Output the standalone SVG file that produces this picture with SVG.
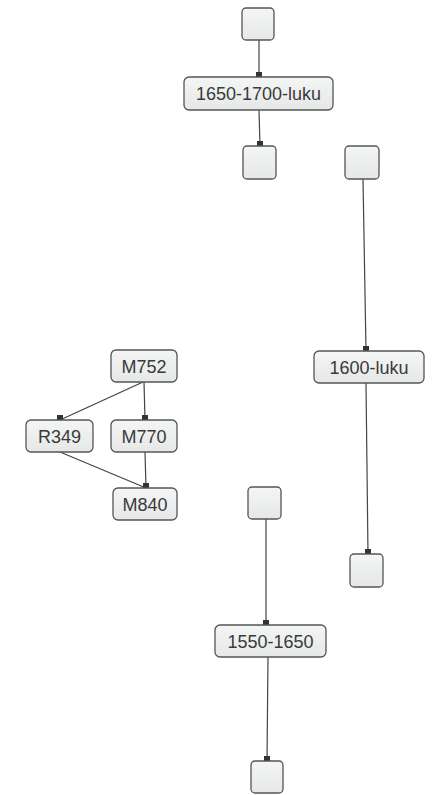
<svg xmlns="http://www.w3.org/2000/svg" width="439" height="795" viewBox="0 0 439 795">
<defs>
<linearGradient id="g" x1="0" y1="0" x2="0" y2="1"><stop offset="0" stop-color="#f4f5f5"/><stop offset="1" stop-color="#e6e8e8"/></linearGradient>
<marker id="m" markerWidth="6" markerHeight="5" refX="3" refY="5" orient="0" markerUnits="userSpaceOnUse" viewBox="0 0 6 5"><rect x="0" y="0" width="6" height="5" fill="#333"/></marker>
</defs>
<style>
.n{fill:url(#g);stroke:#555;stroke-width:1.3}
.t{font-family:"Liberation Sans",Arial,sans-serif;font-size:18px;fill:#3a3a3a;text-anchor:middle}
.c{stroke:#444;stroke-width:1.2;fill:none;marker-end:url(#m)}
</style>
<rect width="439" height="795" fill="#ffffff"/>
<g id="connectors">
<line class="c" x1="259" y1="40" x2="259" y2="77"/>
<line class="c" x1="259" y1="110" x2="260" y2="146"/>
<line class="c" x1="363" y1="179" x2="366" y2="351"/>
<line class="c" x1="366" y1="383" x2="368" y2="554"/>
<line class="c" x1="143" y1="382" x2="60" y2="420"/>
<line class="c" x1="144" y1="382" x2="145" y2="420"/>
<line class="c" x1="60" y1="452" x2="146" y2="488"/>
<line class="c" x1="145" y1="452" x2="146" y2="488"/>
<line class="c" x1="266" y1="519" x2="266" y2="625"/>
<line class="c" x1="268" y1="657" x2="267" y2="761"/>
</g>
<g id="n1"><rect class="n" x="242" y="8" width="32" height="32" rx="4"/></g>
<g id="n2"><rect class="n" x="184" y="77" width="149" height="33" rx="5"/><text class="t" x="258.5" y="100">1650-1700-luku</text></g>
<g id="n3"><rect class="n" x="243" y="146" width="33" height="33" rx="4"/></g>
<g id="n4"><rect class="n" x="345" y="146" width="34" height="33" rx="4"/></g>
<g id="n5"><rect class="n" x="314" y="351" width="110" height="32" rx="5"/><text class="t" x="369" y="373.5">1600-luku</text></g>
<g id="n6"><rect class="n" x="350" y="554" width="33" height="33" rx="4"/></g>
<g id="n7"><rect class="n" x="111" y="350" width="66" height="32" rx="5"/><text class="t" x="144" y="372.5">M752</text></g>
<g id="n8"><rect class="n" x="26" y="420" width="67" height="32" rx="5"/><text class="t" x="59.5" y="442.5">R349</text></g>
<g id="n9"><rect class="n" x="111" y="420" width="66" height="32" rx="5"/><text class="t" x="144" y="442.5">M770</text></g>
<g id="n10"><rect class="n" x="113" y="488" width="64" height="32" rx="5"/><text class="t" x="145" y="510.5">M840</text></g>
<g id="n11"><rect class="n" x="248" y="487" width="33" height="32" rx="4"/></g>
<g id="n12"><rect class="n" x="215" y="625" width="111" height="32" rx="5"/><text class="t" x="270.5" y="647.5">1550-1650</text></g>
<g id="n13"><rect class="n" x="251" y="761" width="32" height="32" rx="4"/></g>
</svg>
